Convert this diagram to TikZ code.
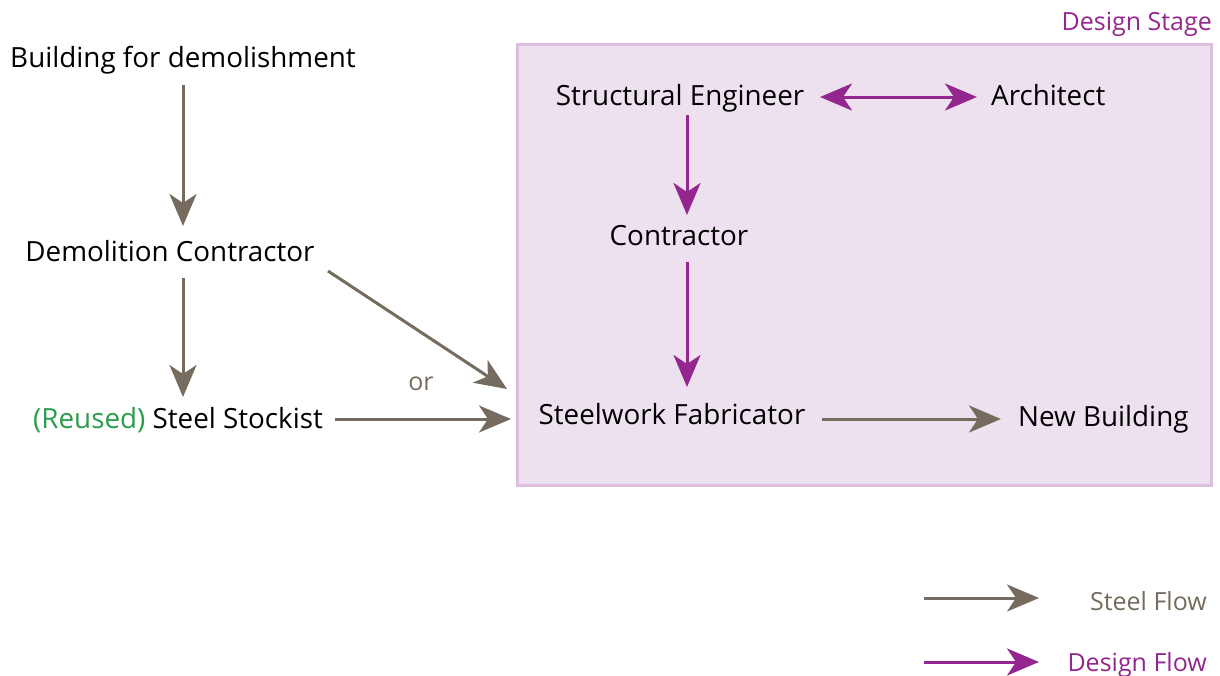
\documentclass[tikz,border=0pt]{standalone}
\usepackage{fontspec}
\setmainfont{Open Sans}
\usetikzlibrary{arrows.meta}
\definecolor{steel}{HTML}{756B5E}
\definecolor{design}{HTML}{93278F}
\definecolor{stagefill}{HTML}{EEE1EF}
\definecolor{stageline}{HTML}{DDBEE0}
\definecolor{reused}{HTML}{2A9D4C}
\tikzset{
  lbl/.style={inner sep=0pt, font=\fontsize{27.8}{30}\selectfont, text=black},
  small/.style={inner sep=0pt, font=\fontsize{25}{28}\selectfont},
  tip/.style={-{Stealth[length=32pt,width=27pt,inset=9pt]}},
  steelarrow/.style={tip, draw=steel, fill=steel, line width=3pt},
  designarrow/.style={tip, draw=design, fill=design, line width=3pt},
}
\begin{document}
\begin{tikzpicture}[x=1pt,y=-1pt]
\useasboundingbox (0,0) rectangle (1220,675);
% design stage panel
\node[draw=stageline, fill=stagefill, line width=2.5pt, minimum width=694pt, minimum height=441pt, anchor=north west, inner sep=0pt] (stage) at (516,43) {};
\node[small, text=design, anchor=base east] (stagelbl) at (1212,30) {Design Stage};
% demolition side
\node[lbl, anchor=base] (bldg) at (183,67) {Building for demolishment};
\node[lbl, anchor=base] (demo) at (170,261) {Demolition Contractor};
\node[lbl, anchor=base west] (stock) at (33,428) {\textcolor{reused}{(Reused)} Steel Stockist};
% design side
\node[lbl, anchor=base] (se) at (680,105) {Structural Engineer};
\node[lbl, anchor=base west] (arch) at (991,105) {Architect};
\node[lbl, anchor=base] (con) at (679,245) {Contractor};
\node[lbl, anchor=base] (fab) at (672,424) {Steelwork Fabricator};
\node[lbl, anchor=base west] (newb) at (1018,426) {New Building};
\node[small, text=steel] (or) at (421,384) {or};
% endpoints of the connectors
\coordinate (bldgS) at (183,85);
\coordinate (demoN) at (183,226);
\coordinate (demoS) at (183,278);
\coordinate (stockN) at (183,397);
\coordinate (stockE) at (335,419);
\coordinate (stageW) at (511,419);
\coordinate (demoE) at (328,271);
\coordinate (stageNW) at (507,389);
\coordinate (seE) at (820,97);
\coordinate (archW) at (977,97);
\coordinate (seS) at (687,115);
\coordinate (conN) at (687,215);
\coordinate (conS) at (687,262);
\coordinate (fabN) at (687,387);
\coordinate (fabE) at (822,419);
\coordinate (newbW) at (1001,419);
% steel flow
\draw[steelarrow] (bldgS) -- (demoN);
\draw[steelarrow] (demoS) -- (stockN);
\draw[steelarrow] (stockE) -- (stageW);
\draw[steelarrow] (demoE) -- (stageNW);
\draw[steelarrow] (fabE) -- (newbW);
% design flow
\draw[designarrow, {Stealth[length=32pt,width=27pt,inset=9pt]}-{Stealth[length=32pt,width=27pt,inset=9pt]}] (seE) -- (archW);
\draw[designarrow] (seS) -- (conN);
\draw[designarrow] (conS) -- (fabN);
% legend
\coordinate (lgA1) at (924,598);
\coordinate (lgA2) at (1039,598);
\coordinate (lgB1) at (924,662);
\coordinate (lgB2) at (1039,662);
\draw[steelarrow] (lgA1) -- (lgA2);
\draw[designarrow] (lgB1) -- (lgB2);
\node[small, text=steel, anchor=base east] (lgsteel) at (1207,610) {Steel Flow};
\node[small, text=design, anchor=base east] (lgdesign) at (1207,671) {Design Flow};
\end{tikzpicture}
\end{document}
